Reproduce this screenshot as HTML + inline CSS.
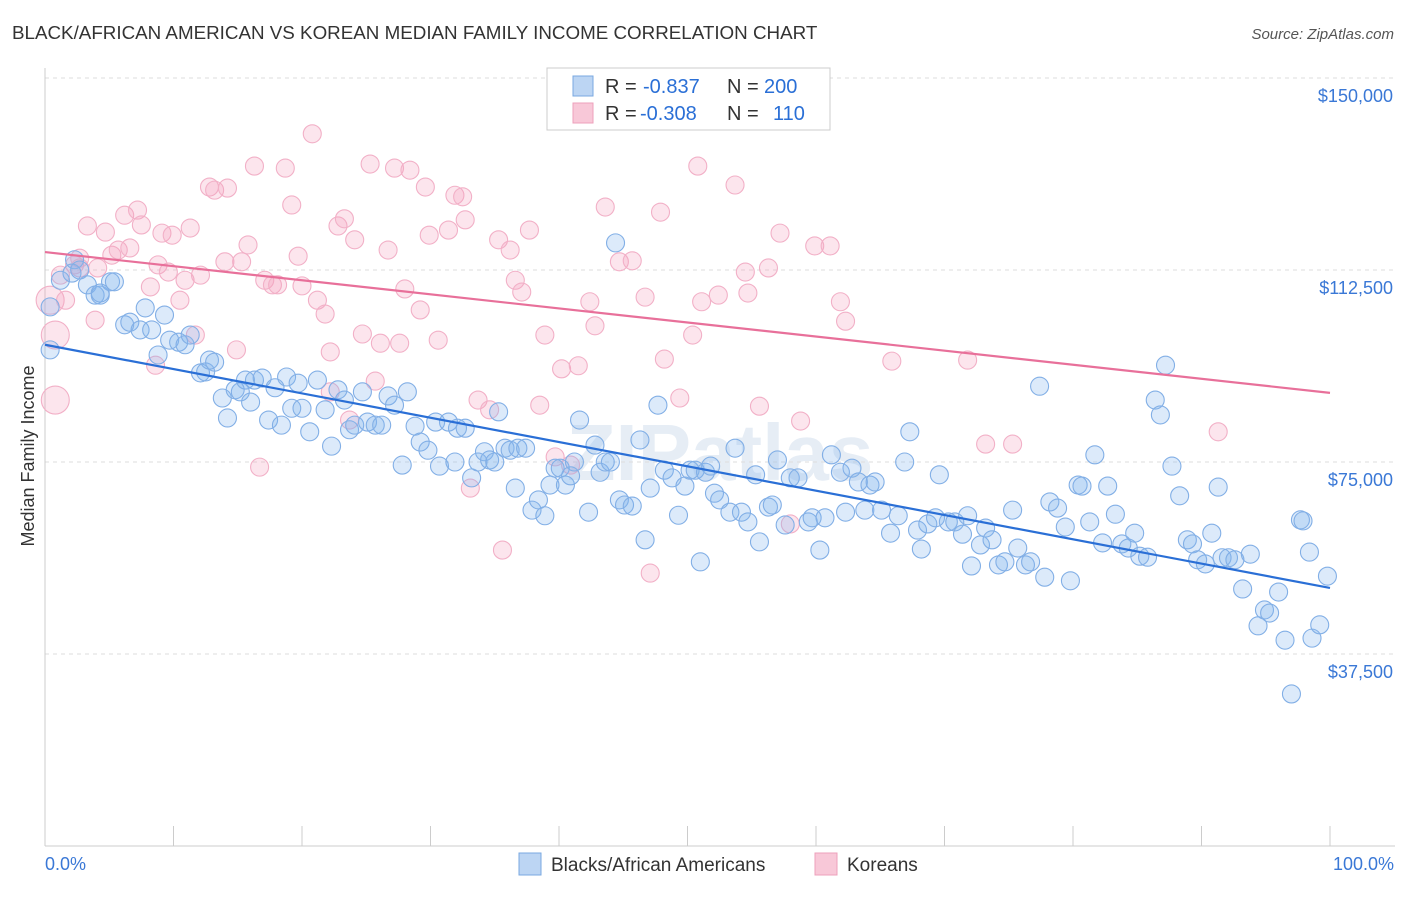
<!DOCTYPE html>
<html><head><meta charset="utf-8">
<style>
body{margin:0;background:#fff;font-family:"Liberation Sans",sans-serif;}
svg text{font-family:"Liberation Sans",sans-serif;}
</style></head>
<body>
<svg id="chart" width="1406" height="892" viewBox="0 0 1406 892" xmlns="http://www.w3.org/2000/svg">
<text x="12" y="39" font-size="18.8" fill="#333">BLACK/AFRICAN AMERICAN VS KOREAN MEDIAN FAMILY INCOME CORRELATION CHART</text>
<text x="1394" y="39" font-size="15" fill="#555" text-anchor="end" font-style="italic">Source: ZipAtlas.com</text>
<text x="720" y="480" font-size="80" fill="#e6edf5" text-anchor="middle" font-weight="bold">ZIPatlas</text>
<text transform="translate(34,456) rotate(-90)" font-size="18" fill="#333" text-anchor="middle">Median Family Income</text>
<g id="grid"></g>
<g id="xticks"></g>
<g id="pinkpts"></g>
<g id="bluepts"></g>
<g id="lines"></g>
<g>
<rect x="547" y="68" width="283" height="62" fill="#fff" stroke="#ccc"/>
<rect x="573" y="76" width="20" height="20" fill="#bcd5f3" stroke="#7aa8e0"/>
<rect x="573" y="103" width="20" height="20" fill="#f8c8d8" stroke="#eea0bb"/>
<text x="605" y="93" font-size="20" fill="#333">R =</text>
<text x="643" y="93" font-size="20" fill="#2a6fd6">-0.837</text>
<text x="727" y="93" font-size="20" fill="#333">N =</text>
<text x="764" y="93" font-size="20" fill="#2a6fd6">200</text>
<text x="605" y="120" font-size="20" fill="#333">R =</text>
<text x="640" y="120" font-size="20" fill="#2a6fd6">-0.308</text>
<text x="727" y="120" font-size="20" fill="#333">N =</text>
<text x="773" y="120" font-size="20" fill="#2a6fd6">110</text>
</g>
<g>
<rect x="519" y="853" width="22" height="22" fill="#bcd5f3" stroke="#7aa8e0"/>
<text x="551" y="871" font-size="19" fill="#333">Blacks/African Americans</text>
<rect x="815" y="853" width="22" height="22" fill="#f8c8d8" stroke="#eea0bb"/>
<text x="847" y="871" font-size="19" fill="#333">Koreans</text>
</g>
<text x="45" y="870" font-size="18" fill="#3a78d6">0.0%</text>
<text x="1394" y="870" font-size="18" fill="#3a78d6" text-anchor="end">100.0%</text>
</svg>
<script>
const yTicks=[150000,112500,75000,37500];
const yTickLabels=["$150,000","$112,500","$75,000","$37,500"];
const xTicks=[0,10,20,30,40,50,60,70,80,90,100];
const blueX=[0.4,1.2,2.3,2.7,3.3,3.9,4.3,5.1,5.4,6.2,6.6,7.4,7.8,8.3,8.8,9.3,9.7,10.4,10.9,11.3,12.1,12.5,12.8,13.2,13.8,14.2,14.8,15.2,15.6,16.0,16.3,16.9,17.4,17.9,18.4,18.8,19.2,19.7,20.0,20.6,21.2,21.8,22.3,22.8,23.3,23.7,24.1,24.7,25.1,25.7,26.2,26.7,27.2,27.8,28.2,28.8,29.2,29.8,30.4,30.7,31.4,31.9,32.1,32.7,33.2,33.7,34.2,34.6,35.0,35.3,35.8,36.2,36.6,36.8,37.4,37.9,38.4,38.9,39.3,39.7,40.1,40.5,40.9,41.2,41.6,42.3,42.8,43.2,43.6,44.0,44.7,45.1,45.7,46.3,46.7,47.1,47.7,48.2,48.8,49.3,49.8,50.2,50.6,51.0,51.4,51.8,52.1,52.5,53.3,53.7,54.2,54.7,55.3,55.6,56.3,56.6,57.0,57.6,58.0,58.6,59.4,59.7,60.3,60.7,61.2,61.9,62.3,62.8,63.3,63.8,64.2,64.6,65.1,65.8,66.4,66.9,67.3,67.9,68.2,68.7,69.3,69.6,70.3,70.8,71.4,71.8,72.1,72.8,73.2,73.7,74.2,74.7,75.3,75.7,76.3,76.7,77.4,77.8,78.2,78.8,79.4,79.8,80.4,80.7,81.3,81.7,82.3,82.7,83.3,83.8,84.3,84.8,85.2,85.8,86.4,86.8,87.2,87.7,88.3,88.9,89.3,89.7,90.3,90.8,91.3,91.6,92.1,92.6,93.2,93.8,94.4,94.9,95.3,96.0,96.5,97.0,97.7,98.4,98.6,99.2,99.8,97.9,44.4,0.4,2.1,4.3];
const blueY=[105.3,110.5,114.5,112.5,109.6,107.6,107.6,110.2,110.2,101.8,102.3,100.8,105.1,100.8,95.9,103.7,98.8,98.4,97.9,99.8,92.4,92.6,94.9,94.5,87.5,83.6,89.1,88.7,91.0,86.7,91.0,91.4,83.2,89.5,82.2,91.6,85.5,90.4,85.5,80.9,91.0,85.2,78.1,89.1,87.1,81.3,82.2,88.7,82.8,82.2,82.2,87.9,86.1,74.4,88.7,82.0,78.9,77.3,82.8,74.2,82.8,75.0,81.6,81.6,71.9,75.0,77.0,75.4,75.0,84.8,77.7,77.3,69.9,77.7,77.7,65.6,67.6,64.5,70.5,73.8,73.8,70.5,72.3,75.0,83.2,65.2,78.3,73.0,75.0,75.0,67.6,66.6,66.4,79.3,59.8,69.9,86.1,73.4,71.9,64.6,70.3,73.4,73.4,55.5,73.0,74.2,68.9,67.6,65.2,77.7,65.2,63.3,72.5,59.4,66.2,66.6,75.4,62.7,71.9,71.9,63.3,64.1,57.8,64.1,76.4,73.0,65.2,73.8,71.1,65.6,70.5,71.1,65.6,61.1,64.5,75.0,80.9,61.7,58.0,62.9,64.1,72.5,63.3,63.3,60.9,64.5,54.7,58.8,62.1,59.8,54.9,55.5,65.6,58.2,54.9,55.5,89.8,52.5,67.2,66.0,62.3,51.8,70.5,70.3,63.3,76.4,59.2,70.3,64.8,59.0,58.2,61.1,56.6,56.4,87.1,84.2,93.9,74.2,68.4,59.8,59.0,55.9,55.1,61.1,70.1,56.3,56.3,55.9,50.2,57.0,43.0,46.1,45.5,49.6,40.2,29.7,63.7,57.4,40.6,43.2,52.7,63.5,117.8,96.9,111.9,108.0];
const pinkX=[0.4,0.8,0.8,1.2,1.6,2.3,2.7,3.3,3.9,4.1,4.7,5.2,5.7,6.2,6.6,7.2,7.5,8.2,8.6,8.8,9.1,9.6,9.9,10.5,10.9,11.3,11.7,12.1,12.8,13.2,14.0,14.2,14.9,15.3,15.8,16.3,16.7,17.1,17.7,18.1,18.7,19.2,19.7,20.0,20.8,21.2,21.8,22.2,22.8,23.3,23.7,24.1,24.7,25.3,25.7,26.1,26.7,27.2,27.6,28.0,28.4,29.2,29.6,29.9,30.6,31.4,31.9,32.5,32.7,33.1,33.7,34.6,35.3,35.6,36.2,36.6,37.1,37.7,38.5,38.9,39.7,40.2,40.9,41.5,42.4,42.8,43.6,44.7,45.7,46.7,47.1,47.9,48.2,49.4,50.4,50.8,51.1,51.9,52.4,53.7,54.5,54.7,55.6,56.3,57.2,58.0,58.8,59.9,61.1,61.9,62.3,65.9,71.8,73.2,75.3,91.3,2.7,22.2];
const pinkY=[106.6,99.8,87.1,111.5,106.6,113.5,114.8,121.1,102.7,112.9,119.9,115.4,116.4,123.2,116.8,124.2,121.3,109.2,93.9,113.5,119.7,112.1,119.3,106.6,110.5,120.7,99.8,111.5,128.7,128.1,114.1,128.5,96.9,114.1,117.4,132.8,74.0,110.5,109.6,109.6,132.4,125.2,115.2,109.4,139.1,106.6,103.9,96.5,121.1,122.5,83.2,118.4,100.0,133.2,90.8,98.2,116.4,132.4,98.2,108.8,132.0,104.7,128.7,119.3,98.8,120.3,127.1,126.8,122.3,69.9,87.1,85.2,118.4,57.8,116.4,110.5,108.2,120.3,86.1,99.8,76.0,93.2,74.4,93.8,106.3,101.6,124.8,114.1,114.3,107.2,53.3,123.8,95.1,87.5,99.8,132.8,106.3,146.1,107.6,129.1,112.1,108.0,85.9,112.9,119.7,62.9,83.0,117.2,117.2,106.3,102.5,94.7,94.9,78.5,78.5,80.9,112.9,88.7];
const pinkR=[14,14,14];
const blueTrend=[97.9,50.4];
const pinkTrend=[116.0,88.5];
const NS="http://www.w3.org/2000/svg";
const X=v=>45+v*12.85;
const Y=v=>846-v/37.5*192;
function mk(tag,attrs,parent){const e=document.createElementNS(NS,tag);for(const k in attrs)e.setAttribute(k,attrs[k]);parent.appendChild(e);return e;}
const grid=document.getElementById('grid');
yTicks.forEach((t,i)=>{
  const l=mk('line',{x1:45,x2:1395,y1:Y(t/1000),y2:Y(t/1000),stroke:'#ddd','stroke-dasharray':'4,4'},grid);
  
  
  const tx=mk('text',{x:1393,y:Y(t/1000)+24,'font-size':18,fill:'#3a78d6','text-anchor':'end'},grid);
  tx.textContent=yTickLabels[i];
  
  
});
const ax=mk('line',{x1:45,x2:45,y1:68,y2:846,stroke:'#ccc'},grid);


const bx=mk('line',{x1:45,x2:1395,y1:846,y2:846,stroke:'#ccc'},grid);


const xt=document.getElementById('xticks');
xTicks.forEach(t=>{
  const l=mk('line',{x1:X(t),x2:X(t),y1:826,y2:846,stroke:'#ccc'},xt);
  
  
});
const pg=document.getElementById('pinkpts');
pinkX.forEach((x,i)=>{
  const c=mk('circle',{cx:X(x),cy:Y(pinkY[i]),r:pinkR[i]||9,fill:'rgba(244,160,190,0.28)',stroke:'#f2b0c7','stroke-width':1.1},pg);
  
  
});
const bg=document.getElementById('bluepts');
blueX.forEach((x,i)=>{
  const c=mk('circle',{cx:X(x),cy:Y(blueY[i]),r:9,fill:'rgba(130,178,238,0.28)',stroke:'#82afe6','stroke-width':1.1},bg);
  
  
});
const lg=document.getElementById('lines');
const bl=mk('line',{x1:X(0),y1:Y(blueTrend[0]),x2:X(100),y2:Y(blueTrend[1]),stroke:'#2a6fd6','stroke-width':2.2},lg);


const pl=mk('line',{x1:X(0),y1:Y(pinkTrend[0]),x2:X(100),y2:Y(pinkTrend[1]),stroke:'#e8709a','stroke-width':2.2},lg);


</script>
</body></html>
